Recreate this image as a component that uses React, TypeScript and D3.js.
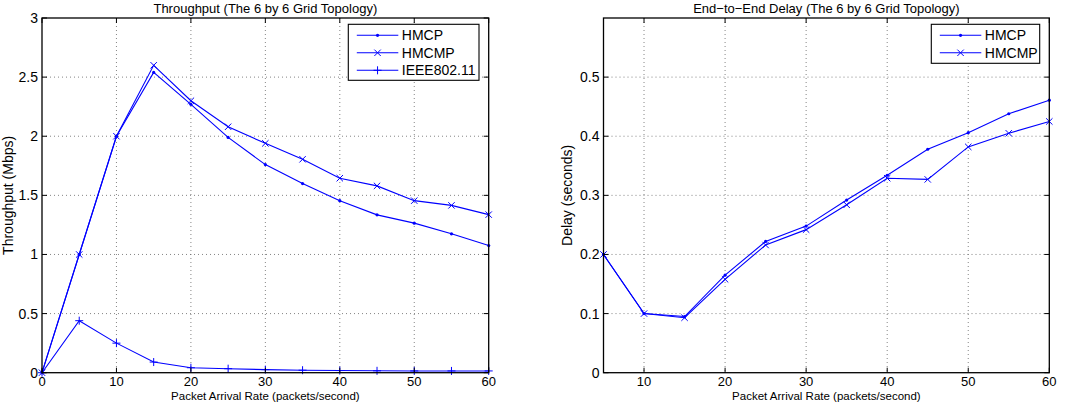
import * as d3 from 'd3';

const rateAll = [0, 5, 10, 15, 20, 25, 30, 35, 40, 45, 50, 55, 60];
const thrHMCP = [0, 1.0, 2.0, 2.54, 2.27, 1.99, 1.76, 1.6, 1.455, 1.335, 1.265, 1.175, 1.075];
const thrHMCMP = [0, 1.0, 2.0, 2.6, 2.3, 2.08, 1.94, 1.805, 1.645, 1.58, 1.455, 1.415, 1.337];
const thrIEEE = [0, 0.44, 0.25, 0.09, 0.042, 0.034, 0.026, 0.021, 0.018, 0.016, 0.015, 0.015, 0.015];

const rateDelay = [5, 10, 15, 20, 25, 30, 35, 40, 45, 50, 55, 60];
const delayHMCP = [0.2, 0.1, 0.095, 0.165, 0.222, 0.248, 0.292, 0.334, 0.378, 0.406, 0.438, 0.461];
const delayHMCMP = [0.2, 0.1, 0.093, 0.158, 0.216, 0.242, 0.284, 0.329, 0.327, 0.382, 0.405, 0.425];

const thrXTicks = [0, 10, 20, 30, 40, 50, 60];
const thrYTicks = [0, 0.5, 1, 1.5, 2, 2.5, 3];
const delayXTicks = [10, 20, 30, 40, 50, 60];
const delayYTicks = [0, 0.1, 0.2, 0.3, 0.4, 0.5];

const BLUE = '#0000ff';
const FONT = 'Liberation Sans, Arial, Helvetica, sans-serif';

type Marker = 'dot' | 'x' | 'plus';
type Series = { name: string; values: number[]; marker: Marker };

function MarkerGlyph({ kind, x, y }: { kind: Marker; x: number; y: number }) {
  if (kind === 'dot') return <circle cx={x} cy={y} r={1.6} fill={BLUE} />;
  const s = 3.2;
  if (kind === 'x')
    return (
      <path
        d={`M${x - s},${y - s}L${x + s},${y + s}M${x - s},${y + s}L${x + s},${y - s}`}
        stroke={BLUE}
        strokeWidth={1}
      />
    );
  return (
    <path
      d={`M${x - 4},${y}L${x + 4},${y}M${x},${y - 4}L${x},${y + 4}`}
      stroke={BLUE}
      strokeWidth={1}
    />
  );
}

function Panel(props: {
  left: number;
  right: number;
  top: number;
  bottom: number;
  xs: number[];
  series: Series[];
  xDomain: [number, number];
  yDomain: [number, number];
  xTicks: number[];
  yTicks: number[];
  title: string;
  xLabel: string;
  yLabel: string;
  yLabelX: number;
  legend: { x: number; y: number; w: number; h: number };
}) {
  const { left, right, top, bottom, xs, series, xTicks, yTicks, legend } = props;
  const x = d3.scaleLinear().domain(props.xDomain).range([left, right]);
  const y = d3.scaleLinear().domain(props.yDomain).range([bottom, top]);
  const line = d3
    .line<number>()
    .x((_, i) => x(xs[i]))
    .y((d) => y(d));
  const tick = 5;
  const cx = (left + right) / 2;
  const cy = (top + bottom) / 2;

  return (
    <g fontFamily={FONT} fontSize={14}>
      {/* dotted grid */}
      {xTicks
        .filter((t) => x(t) > left + 1 && x(t) < right - 1)
        .map((t) => (
          <line key={'gx' + t} x1={x(t)} x2={x(t)} y1={top} y2={bottom} stroke="#666" strokeWidth={0.8} strokeDasharray="1,3" />
        ))}
      {yTicks
        .filter((t) => y(t) < bottom - 1 && y(t) > top + 1)
        .map((t) => (
          <line key={'gy' + t} x1={left} x2={right} y1={y(t)} y2={y(t)} stroke="#666" strokeWidth={0.8} strokeDasharray="1,3" />
        ))}

      {/* series */}
      {series.map((s) => (
        <g key={s.name}>
          <path d={line(s.values) ?? ''} fill="none" stroke={BLUE} strokeWidth={1.1} />
          {s.values.map((v, i) => (
            <MarkerGlyph key={i} kind={s.marker} x={x(xs[i])} y={y(v)} />
          ))}
        </g>
      ))}

      {/* axes box and inward ticks */}
      <rect x={left} y={top} width={right - left} height={bottom - top} fill="none" stroke="#000" strokeWidth={1.3} />
      {xTicks.map((t) => (
        <g key={'tx' + t}>
          <line x1={x(t)} x2={x(t)} y1={bottom} y2={bottom - tick} stroke="#000" />
          <line x1={x(t)} x2={x(t)} y1={top} y2={top + tick} stroke="#000" />
          <text x={x(t)} y={bottom + 13.5} textAnchor="middle" fill="#000" fontSize={13}>
            {t}
          </text>
        </g>
      ))}
      {yTicks.map((t) => (
        <g key={'ty' + t}>
          <line x1={left} x2={left + tick} y1={y(t)} y2={y(t)} stroke="#000" />
          <line x1={right} x2={right - tick} y1={y(t)} y2={y(t)} stroke="#000" />
          <text x={left - 4} y={y(t) + 5} textAnchor="end" fill="#000">
            {t}
          </text>
        </g>
      ))}

      <text x={cx} y={12.5} textAnchor="middle" fill="#000" fontSize={13}>
        {props.title}
      </text>
      <text x={cx} y={399.5} textAnchor="middle" fill="#000" fontSize={11.5}>
        {props.xLabel}
      </text>
      <text transform={`translate(${props.yLabelX},${cy}) rotate(-90)`} textAnchor="middle" fill="#000">
        {props.yLabel}
      </text>

      {/* legend */}
      <rect x={legend.x} y={legend.y} width={legend.w} height={legend.h} fill="#fff" stroke="#000" strokeWidth={1.1} />
      {series.map((s, i) => {
        const ly = legend.y + 11 + i * 17.5;
        const lx1 = legend.x + 8.5;
        const lx2 = legend.x + 50;
        return (
          <g key={'lg' + s.name}>
            <line x1={lx1} x2={lx2} y1={ly} y2={ly} stroke={BLUE} strokeWidth={1.1} />
            <MarkerGlyph kind={s.marker} x={(lx1 + lx2) / 2} y={ly} />
            <text x={lx2 + 3.5} y={ly + 5} fill="#000">
              {s.name}
            </text>
          </g>
        );
      })}
    </g>
  );
}

export default function App() {
  const top = 18;
  const bottom = 372.7;
  return (
    <svg
      width={1077}
      height={402}
      viewBox="0 0 1077 402"
      style={{ position: 'absolute', left: 0, top: 0, background: '#fff' }}
    >
      <rect width={1077} height={402} fill="#fff" />
      <Panel
        left={42}
        right={488.7}
        top={top}
        bottom={bottom}
        xs={rateAll}
        series={[
          { name: 'HMCP', values: thrHMCP, marker: 'dot' },
          { name: 'HMCMP', values: thrHMCMP, marker: 'x' },
          { name: 'IEEE802.11', values: thrIEEE, marker: 'plus' },
        ]}
        xDomain={[0, 60]}
        yDomain={[0, 3]}
        xTicks={thrXTicks}
        yTicks={thrYTicks}
        title="Throughput (The 6 by 6 Grid Topology)"
        xLabel="Packet Arrival Rate (packets/second)"
        yLabel="Throughput (Mbps)"
        yLabelX={13}
        legend={{ x: 348.3, y: 24.3, w: 130.7, h: 56 }}
      />
      <Panel
        left={603.5}
        right={1049.3}
        top={top}
        bottom={bottom}
        xs={rateDelay}
        series={[
          { name: 'HMCP', values: delayHMCP, marker: 'dot' },
          { name: 'HMCMP', values: delayHMCMP, marker: 'x' },
        ]}
        xDomain={[5, 60]}
        yDomain={[0, 0.6]}
        xTicks={delayXTicks}
        yTicks={delayYTicks}
        title="End−to−End Delay (The 6 by 6 Grid Topology)"
        xLabel="Packet Arrival Rate (packets/second)"
        yLabel="Delay (seconds)"
        yLabelX={572}
        legend={{ x: 931.3, y: 24.3, w: 108.4, h: 39 }}
      />
    </svg>
  );
}
